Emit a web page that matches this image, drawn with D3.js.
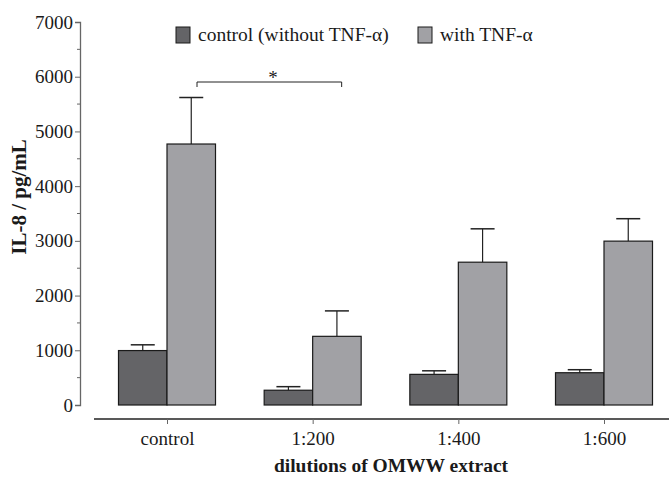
<!DOCTYPE html>
<html>
<head>
<meta charset="utf-8">
<script src="https://cdn.jsdelivr.net/npm/d3@7"></script>
<style>
  body { margin: 0; background: #fff; }
  text { font-family: "Liberation Serif", "Times New Roman", serif; fill: #1a1a1a; }
</style>
</head>
<body>
<div id="chart"></div>
<script>
// data
var categories = ["control", "1:200", "1:400", "1:600"];
var seriesNames = ["control (without TNF-\u03b1)", "with TNF-\u03b1"];
var controlMeans = [995, 270, 560, 590];
var controlErr = [105, 65, 65, 55];
var tnfMeans = [4770, 1255, 2610, 2995];
var tnfErr = [850, 465, 610, 410];
var yTicks = [0, 1000, 2000, 3000, 4000, 5000, 6000, 7000];

var colors = ["#646467", "#a1a1a5"];

var width = 669, height = 482;
var svg = d3.select("#chart").append("svg").attr("width", width).attr("height", height);

// scales
var y = d3.scaleLinear().domain([0, 7000]).range([405, 22]);
var x = d3.scalePoint().domain(categories).range([167, 604]);
var barW = 48.5;

// y axis
var yAxis = d3.axisLeft(y).tickValues(yTicks).tickSize(5).tickPadding(2).tickFormat(d3.format("d"));
var gy = svg.append("g").attr("transform", "translate(80,0)").call(yAxis);
gy.select(".domain").attr("stroke", "#666").attr("stroke-width", 1.3);
gy.selectAll(".tick line").attr("stroke", "#666");
gy.selectAll(".tick text").style("font-size", "19px").attr("fill", "#1a1a1a");
// minor ticks
gy.selectAll(".minor").data(d3.range(500, 7000, 1000)).enter().append("line")
  .attr("x1", -3).attr("x2", 0)
  .attr("y1", function(d){ return y(d); }).attr("y2", function(d){ return y(d); })
  .attr("stroke", "#666");

// x axis
var xAxis = d3.axisBottom(x).tickSize(5).tickPadding(8).tickSizeOuter(0);
var gx = svg.append("g").attr("transform", "translate(0,419)").call(xAxis);
gx.select(".domain").attr("d", "M94,0H669").attr("stroke", "#222").attr("stroke-width", 1.3);
gx.selectAll(".tick line").attr("stroke", "#666");
gx.selectAll(".tick text").style("font-size", "19px").attr("fill", "#1a1a1a");

// bars
var series = [
  {means: controlMeans, err: controlErr, off: -barW},
  {means: tnfMeans, err: tnfErr, off: 0}
];
series.forEach(function(s, si){
  var g = svg.append("g");
  categories.forEach(function(c, i){
    var cx = x(c) + s.off + barW / 2;
    g.append("line")
      .attr("x1", cx).attr("x2", cx)
      .attr("y1", y(s.means[i])).attr("y2", y(s.means[i] + s.err[i]))
      .attr("stroke", "#222").attr("stroke-width", 1.2);
    g.append("line")
      .attr("x1", cx - 12).attr("x2", cx + 12)
      .attr("y1", y(s.means[i] + s.err[i])).attr("y2", y(s.means[i] + s.err[i]))
      .attr("stroke", "#222").attr("stroke-width", 1.5);
    g.append("rect")
      .attr("x", x(c) + s.off)
      .attr("y", y(s.means[i]))
      .attr("width", barW)
      .attr("height", y(0) - y(s.means[i]))
      .attr("fill", colors[si])
      .attr("stroke", "#1a1a1a")
      .attr("stroke-width", 1.2);
  });
});

// significance bracket between control and 1:200 (TNF)
var bx1 = x("control") + 30, bx2 = x("1:200") + 29, by = 82;
svg.append("path")
  .attr("d", "M" + bx1 + "," + (by + 5) + "V" + by + "H" + bx2 + "V" + (by + 5))
  .attr("fill", "none").attr("stroke", "#222").attr("stroke-width", 1);
svg.append("text").attr("x", 273).attr("y", 84).attr("text-anchor", "middle")
  .style("font-size", "19px").text("*");

// legend
var legX = [176, 418];
seriesNames.forEach(function(n, i){
  svg.append("rect").attr("x", legX[i]).attr("y", 27).attr("width", 14).attr("height", 16)
    .attr("fill", colors[i]).attr("stroke", "#1a1a1a").attr("stroke-width", 1);
  svg.append("text").attr("x", legX[i] + 22).attr("y", 41)
    .style("font-size", "19.5px").text(n);
});

// axis titles
svg.append("text").attr("x", 391).attr("y", 472).attr("text-anchor", "middle")
  .style("font-size", "19.5px").style("font-weight", "bold").text("dilutions of OMWW extract");
svg.append("text").attr("transform", "translate(26,197) rotate(-90)").attr("text-anchor", "middle")
  .style("font-size", "21px").style("font-weight", "bold").text("IL-8 / pg/mL");
</script>
</body>
</html>
